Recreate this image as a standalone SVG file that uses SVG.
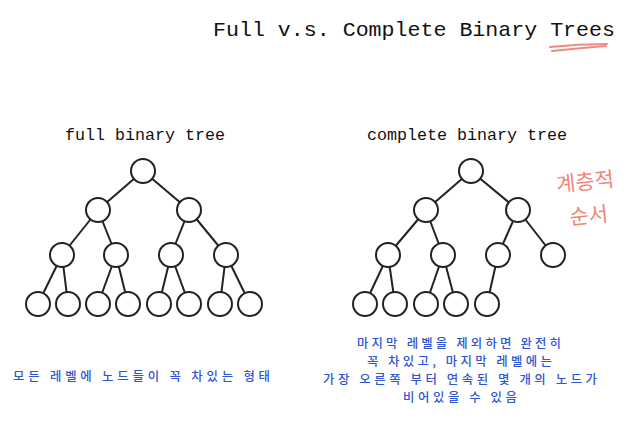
<svg xmlns="http://www.w3.org/2000/svg" width="631" height="442" viewBox="0 0 631 442">
<style>
.bg{fill:#ffffff}
.mono{font-family:"Liberation Mono","DejaVu Sans Mono",monospace;fill:#111111}
.node circle{fill:#ffffff;stroke:#222222;stroke-width:2}
.edges line{stroke:#222222;stroke-width:2}
.kr{font-family:"Noto Sans CJK KR","Noto Sans",sans-serif;fill:#2f55d4;font-size:12.4px;font-weight:500;text-anchor:middle}
.red{font-family:"Noto Sans CJK KR",sans-serif;fill:#f0867a;font-size:21px}
.redline{fill:none;stroke:#f08a80;stroke-width:2;stroke-linecap:round}
</style>
<rect class="bg" x="0" y="0" width="631" height="442"/>
<text class="mono" x="213" y="36" font-size="21" textLength="402" lengthAdjust="spacingAndGlyphs">Full v.s. Complete Binary Trees</text>
<path class="redline" d="M550,47 Q578,44 607,44 M552,51 Q580,48 606,46"/>
<text class="mono" x="65" y="140" font-size="16.5" textLength="160" lengthAdjust="spacingAndGlyphs">full binary tree</text>
<text class="mono" x="367" y="140" font-size="16.5" textLength="200" lengthAdjust="spacingAndGlyphs">complete binary tree</text>

<g id="connectors" class="edges">
<line x1="143" y1="171" x2="98" y2="210"/>
<line x1="143" y1="171" x2="189" y2="210"/>
<line x1="98" y1="210" x2="62" y2="255"/>
<line x1="98" y1="210" x2="116" y2="255"/>
<line x1="189" y1="210" x2="171" y2="255"/>
<line x1="189" y1="210" x2="226" y2="255"/>
<line x1="62" y1="255" x2="38" y2="304"/>
<line x1="62" y1="255" x2="68" y2="304"/>
<line x1="116" y1="255" x2="98" y2="304"/>
<line x1="116" y1="255" x2="128" y2="304"/>
<line x1="171" y1="255" x2="159" y2="304"/>
<line x1="171" y1="255" x2="189" y2="304"/>
<line x1="226" y1="255" x2="220" y2="304"/>
<line x1="226" y1="255" x2="250" y2="304"/>

<line x1="471" y1="171" x2="426" y2="210"/>
<line x1="471" y1="171" x2="518" y2="210"/>
<line x1="426" y1="210" x2="388" y2="255"/>
<line x1="426" y1="210" x2="443" y2="255"/>
<line x1="518" y1="210" x2="498" y2="255"/>
<line x1="518" y1="210" x2="553" y2="255"/>
<line x1="388" y1="255" x2="365" y2="304"/>
<line x1="388" y1="255" x2="395" y2="304"/>
<line x1="443" y1="255" x2="426" y2="304"/>
<line x1="443" y1="255" x2="456" y2="304"/>
<line x1="498" y1="255" x2="487" y2="304"/>
</g>

<g id="f1" class="node"><circle cx="143" cy="171" r="12"/></g>
<g id="f2" class="node"><circle cx="98" cy="210" r="12"/></g>
<g id="f3" class="node"><circle cx="189" cy="210" r="12"/></g>
<g id="f4" class="node"><circle cx="62" cy="255" r="12"/></g>
<g id="f5" class="node"><circle cx="116" cy="255" r="12"/></g>
<g id="f6" class="node"><circle cx="171" cy="255" r="12"/></g>
<g id="f7" class="node"><circle cx="226" cy="255" r="12"/></g>
<g id="f8" class="node"><circle cx="38" cy="304" r="12"/></g>
<g id="f9" class="node"><circle cx="68" cy="304" r="12"/></g>
<g id="f10" class="node"><circle cx="98" cy="304" r="12"/></g>
<g id="f11" class="node"><circle cx="128" cy="304" r="12"/></g>
<g id="f12" class="node"><circle cx="159" cy="304" r="12"/></g>
<g id="f13" class="node"><circle cx="189" cy="304" r="12"/></g>
<g id="f14" class="node"><circle cx="220" cy="304" r="12"/></g>
<g id="f15" class="node"><circle cx="250" cy="304" r="12"/></g>

<g id="c1" class="node"><circle cx="471" cy="171" r="12"/></g>
<g id="c2" class="node"><circle cx="426" cy="210" r="12"/></g>
<g id="c3" class="node"><circle cx="518" cy="210" r="12"/></g>
<g id="c4" class="node"><circle cx="388" cy="255" r="12"/></g>
<g id="c5" class="node"><circle cx="443" cy="255" r="12"/></g>
<g id="c6" class="node"><circle cx="498" cy="255" r="12"/></g>
<g id="c7" class="node"><circle cx="553" cy="255" r="12"/></g>
<g id="c8" class="node"><circle cx="365" cy="304" r="12"/></g>
<g id="c9" class="node"><circle cx="395" cy="304" r="12"/></g>
<g id="c10" class="node"><circle cx="426" cy="304" r="12"/></g>
<g id="c11" class="node"><circle cx="456" cy="304" r="12"/></g>
<g id="c12" class="node"><circle cx="487" cy="304" r="12"/></g>

<text class="red" x="556" y="189" transform="rotate(-6 587 180)">계층적</text>
<text class="red" x="569" y="222" transform="rotate(-6 597 212)">순서</text>

<text class="kr" x="141.5" y="381" textLength="257" lengthAdjust="spacing">모든 레벨에 노드들이 꼭 차있는 형태</text>
<text class="kr" x="459" y="347.5" textLength="204" lengthAdjust="spacing">마지막 레벨을 제외하면 완전히</text>
<text class="kr" x="459.5" y="365.7" textLength="185" lengthAdjust="spacing">꼭 차있고, 마지막 레벨에는</text>
<text class="kr" x="460" y="383.9" textLength="274" lengthAdjust="spacing">가장 오른쪽 부터 연속된 몇 개의 노드가</text>
<text class="kr" x="460" y="402.1" textLength="114" lengthAdjust="spacing">비어있을 수 있음</text>
</svg>
